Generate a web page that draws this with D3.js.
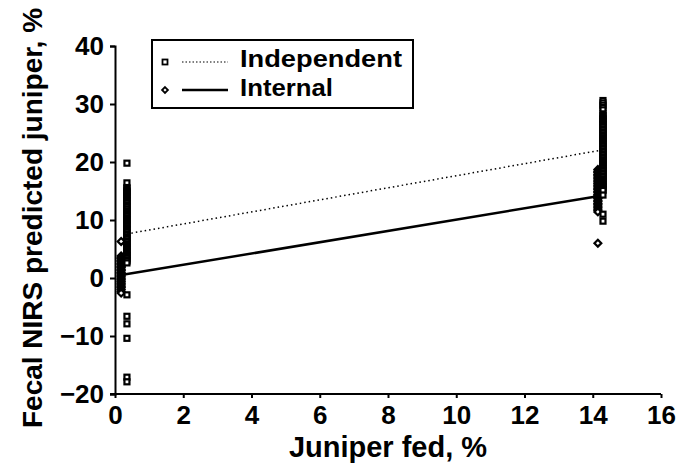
<!DOCTYPE html>
<html>
<head>
<meta charset="utf-8">
<script src="https://cdn.jsdelivr.net/npm/d3@7"></script>
<style>
  body { margin: 0; background: #fff; }
  text { font-family: "Liberation Sans", Arial, sans-serif; font-weight: bold; fill: #000; }
</style>
</head>
<body>
<div id="chart"></div>
<script>
// juniper fed level (%) for each group of samples
var fedLow = { indep: 0.35, internal: 0.18 }
var fedHigh = { indep: 14.3, internal: 14.15 }

// independent validation, predicted %
var indepLow = [19.8, 16.4, 15.6, 15.4, 15.1, 14.9, 14.7, 14.4, 14.2, 13.9, 13.7, 13.4, 13.2, 12.9,
    12.6, 12.4, 12.2, 11.9, 11.6, 11.4, 11.1, 10.9, 10.7, 10.4, 10.1, 9.9, 9.7, 9.4, 9.2, 8.9,
    8.6, 8.4, 8.2, 7.9, 7.6, 7.4, 7.1, 6.9, 6.7, 6.4, 6.2, 5.9, 5.6, 5.4, 5.2, 4.9, 4.6, 4.4,
    4.1, 3.9, 3.7, 3.4, 3.1, 2.9, 2.6, -2.9, -6.6, -7.9, -10.4, -17.1, -17.9]
var indepHigh = [30.6, 30.2, 29.8, 29.4, 29.0, 28.3, 28.0, 27.8, 27.5, 27.3, 27.0, 26.8, 26.5, 26.3,
    26.0, 25.7, 25.5, 25.2, 25.0, 24.7, 24.5, 24.2, 24.0, 23.7, 23.5, 23.2, 23.0, 22.7, 22.4,
    22.2, 21.9, 21.7, 21.4, 21.2, 20.9, 20.7, 20.4, 20.2, 19.9, 19.6, 19.4, 19.1, 18.9, 18.6,
    18.4, 18.1, 17.9, 17.6, 17.4, 17.1, 16.8, 16.6, 16.3, 16.1, 15.8, 15.6, 15.3, 15.1, 14.3,
    11.0, 9.8]

// internal (cross) validation, predicted %
var internalLow = [6.3, 3.8, 3.5, 3.3, 3.0, 2.8, 2.5, 2.3, 2.0, 1.8, 1.5, 1.3, 1.0, 0.8, 0.5, 0.3,
    0.0, -0.2, -0.5, -0.7, -1.0, -1.2, -1.5, -1.7, -2.0, -2.3, -2.6]
var internalHigh = [18.7, 18.4, 18.2, 17.9, 17.7, 17.4, 17.2, 16.9, 16.7, 16.4, 16.2, 15.9, 15.7,
    15.4, 15.2, 14.9, 14.7, 14.4, 14.2, 13.9, 13.7, 13.4, 13.2, 12.9, 12.7, 12.4, 12.2, 11.9,
    11.7, 11.4, 6.0]

// regression lines [fed, predicted]
var indepFit = [[0.35, 7.6], [14.3, 22.1]]
var internalFit = [[0.18, 0.5], [14.15, 14.1]]

var xTicks = [0, 2, 4, 6, 8, 10, 12, 14, 16]
var yTicks = [-20, -10, 0, 10, 20, 30, 40]

var W = 691, H = 464
var margin = { left: 115, right: 30, top: 46, bottom: 70 }
var width = W - margin.left - margin.right,
    height = H - margin.top - margin.bottom

var svg = d3.select("#chart").append("svg")
    .attr("width", W)
    .attr("height", H)

var g = svg.append("g")
    .attr("transform", "translate(" + margin.left + "," + margin.top + ")")

var x = d3.scaleLinear().domain([0, 16]).range([0, width])
var y = d3.scaleLinear().domain([-20, 40]).range([height, 0])

function fmt(d) { return d < 0 ? "\u2212" + Math.abs(d) : "" + d }

var xAxis = g.append("g")
    .attr("transform", "translate(0," + height + ")")
    .call(d3.axisBottom(x).tickValues(xTicks).tickSize(4).tickPadding(8).tickFormat(fmt))
var yAxis = g.append("g")
    .call(d3.axisLeft(y).tickValues(yTicks).tickSize(5).tickPadding(6).tickFormat(fmt))

;[xAxis, yAxis].forEach(function(a){
    a.select(".domain").attr("stroke", "#000").attr("stroke-width", 2)
    a.selectAll(".tick line").attr("stroke", "#000").attr("stroke-width", 2)
    a.selectAll(".tick text").style("font-size", "26px").style("font-family", "Liberation Sans, Arial, sans-serif")
        .style("font-weight", "bold").attr("fill", "#000")
})
// x axis line runs a bit past the y axis (like the original)
xAxis.select(".domain").attr("d", "M-5,0H" + width)

// axis titles
svg.append("text")
    .attr("x", margin.left + width / 2)
    .attr("y", 457)
    .attr("text-anchor", "middle")
    .style("font-size", "29px")
    .text("Juniper fed, %")

svg.append("text")
    .attr("transform", "translate(42," + (margin.top + height / 2 - 2) + ") rotate(-90)")
    .attr("text-anchor", "middle")
    .style("font-size", "28px")
    .text("Fecal NIRS predicted juniper, %")

var line = d3.line().x(function(d){ return x(d[0]) }).y(function(d){ return y(d[1]) })

// points
function squares(vals, fed){
    g.append("g").selectAll("rect")
        .data(vals).enter()
        .append("rect")
        .attr("x", x(fed) - 2.5)
        .attr("y", function(d){ return y(d) - 2.5 })
        .attr("width", 5).attr("height", 5)
        .attr("fill", "#fff")
        .attr("stroke", "#000")
        .attr("stroke-width", 2.2)
}
var diamond = d3.symbol().type(d3.symbolDiamond2).size(30)
function diamonds(vals, fed){
    g.append("g").selectAll("path")
        .data(vals).enter()
        .append("path")
        .attr("d", diamond)
        .attr("transform", function(d){ return "translate(" + x(fed) + "," + y(d) + ")" })
        .attr("fill", "#fff")
        .attr("stroke", "#000")
        .attr("stroke-width", 2.2)
}

diamonds(internalLow, fedLow.internal)
diamonds(internalHigh, fedHigh.internal)
squares(indepLow, fedLow.indep)
squares(indepHigh, fedHigh.indep)

// regression lines
g.append("path").datum(indepFit)
    .attr("d", line)
    .attr("fill", "none")
    .attr("stroke", "#000")
    .attr("stroke-width", 1.5)
    .attr("stroke-dasharray", "1.5,3")
g.append("path").datum(internalFit)
    .attr("d", line)
    .attr("fill", "none")
    .attr("stroke", "#000")
    .attr("stroke-width", 2.5)

// legend
var leg = svg.append("g").attr("transform", "translate(152,40)")
leg.append("rect")
    .attr("width", 261).attr("height", 68)
    .attr("fill", "#fff").attr("stroke", "#000").attr("stroke-width", 2)

leg.append("rect").attr("x", 10.5).attr("y", 19.5).attr("width", 5).attr("height", 5)
    .attr("fill", "#fff").attr("stroke", "#000").attr("stroke-width", 1.8)
leg.append("line").attr("x1", 30).attr("x2", 76).attr("y1", 22).attr("y2", 22)
    .attr("stroke", "#000").attr("stroke-width", 1.2).attr("stroke-dasharray", "1.5,2")
leg.append("text").attr("x", 88).attr("y", 27).style("font-size", "23px")
    .attr("textLength", 162).attr("lengthAdjust", "spacingAndGlyphs")
    .text("Independent")

leg.append("path").attr("d", d3.symbol().type(d3.symbolDiamond2).size(22))
    .attr("transform", "translate(13,50)")
    .attr("fill", "#fff").attr("stroke", "#000").attr("stroke-width", 1.8)
leg.append("line").attr("x1", 30).attr("x2", 76).attr("y1", 50).attr("y2", 50)
    .attr("stroke", "#000").attr("stroke-width", 2.5)
leg.append("text").attr("x", 88).attr("y", 56).style("font-size", "23px")
    .attr("textLength", 93).attr("lengthAdjust", "spacingAndGlyphs")
    .text("Internal")
</script>
</body>
</html>
